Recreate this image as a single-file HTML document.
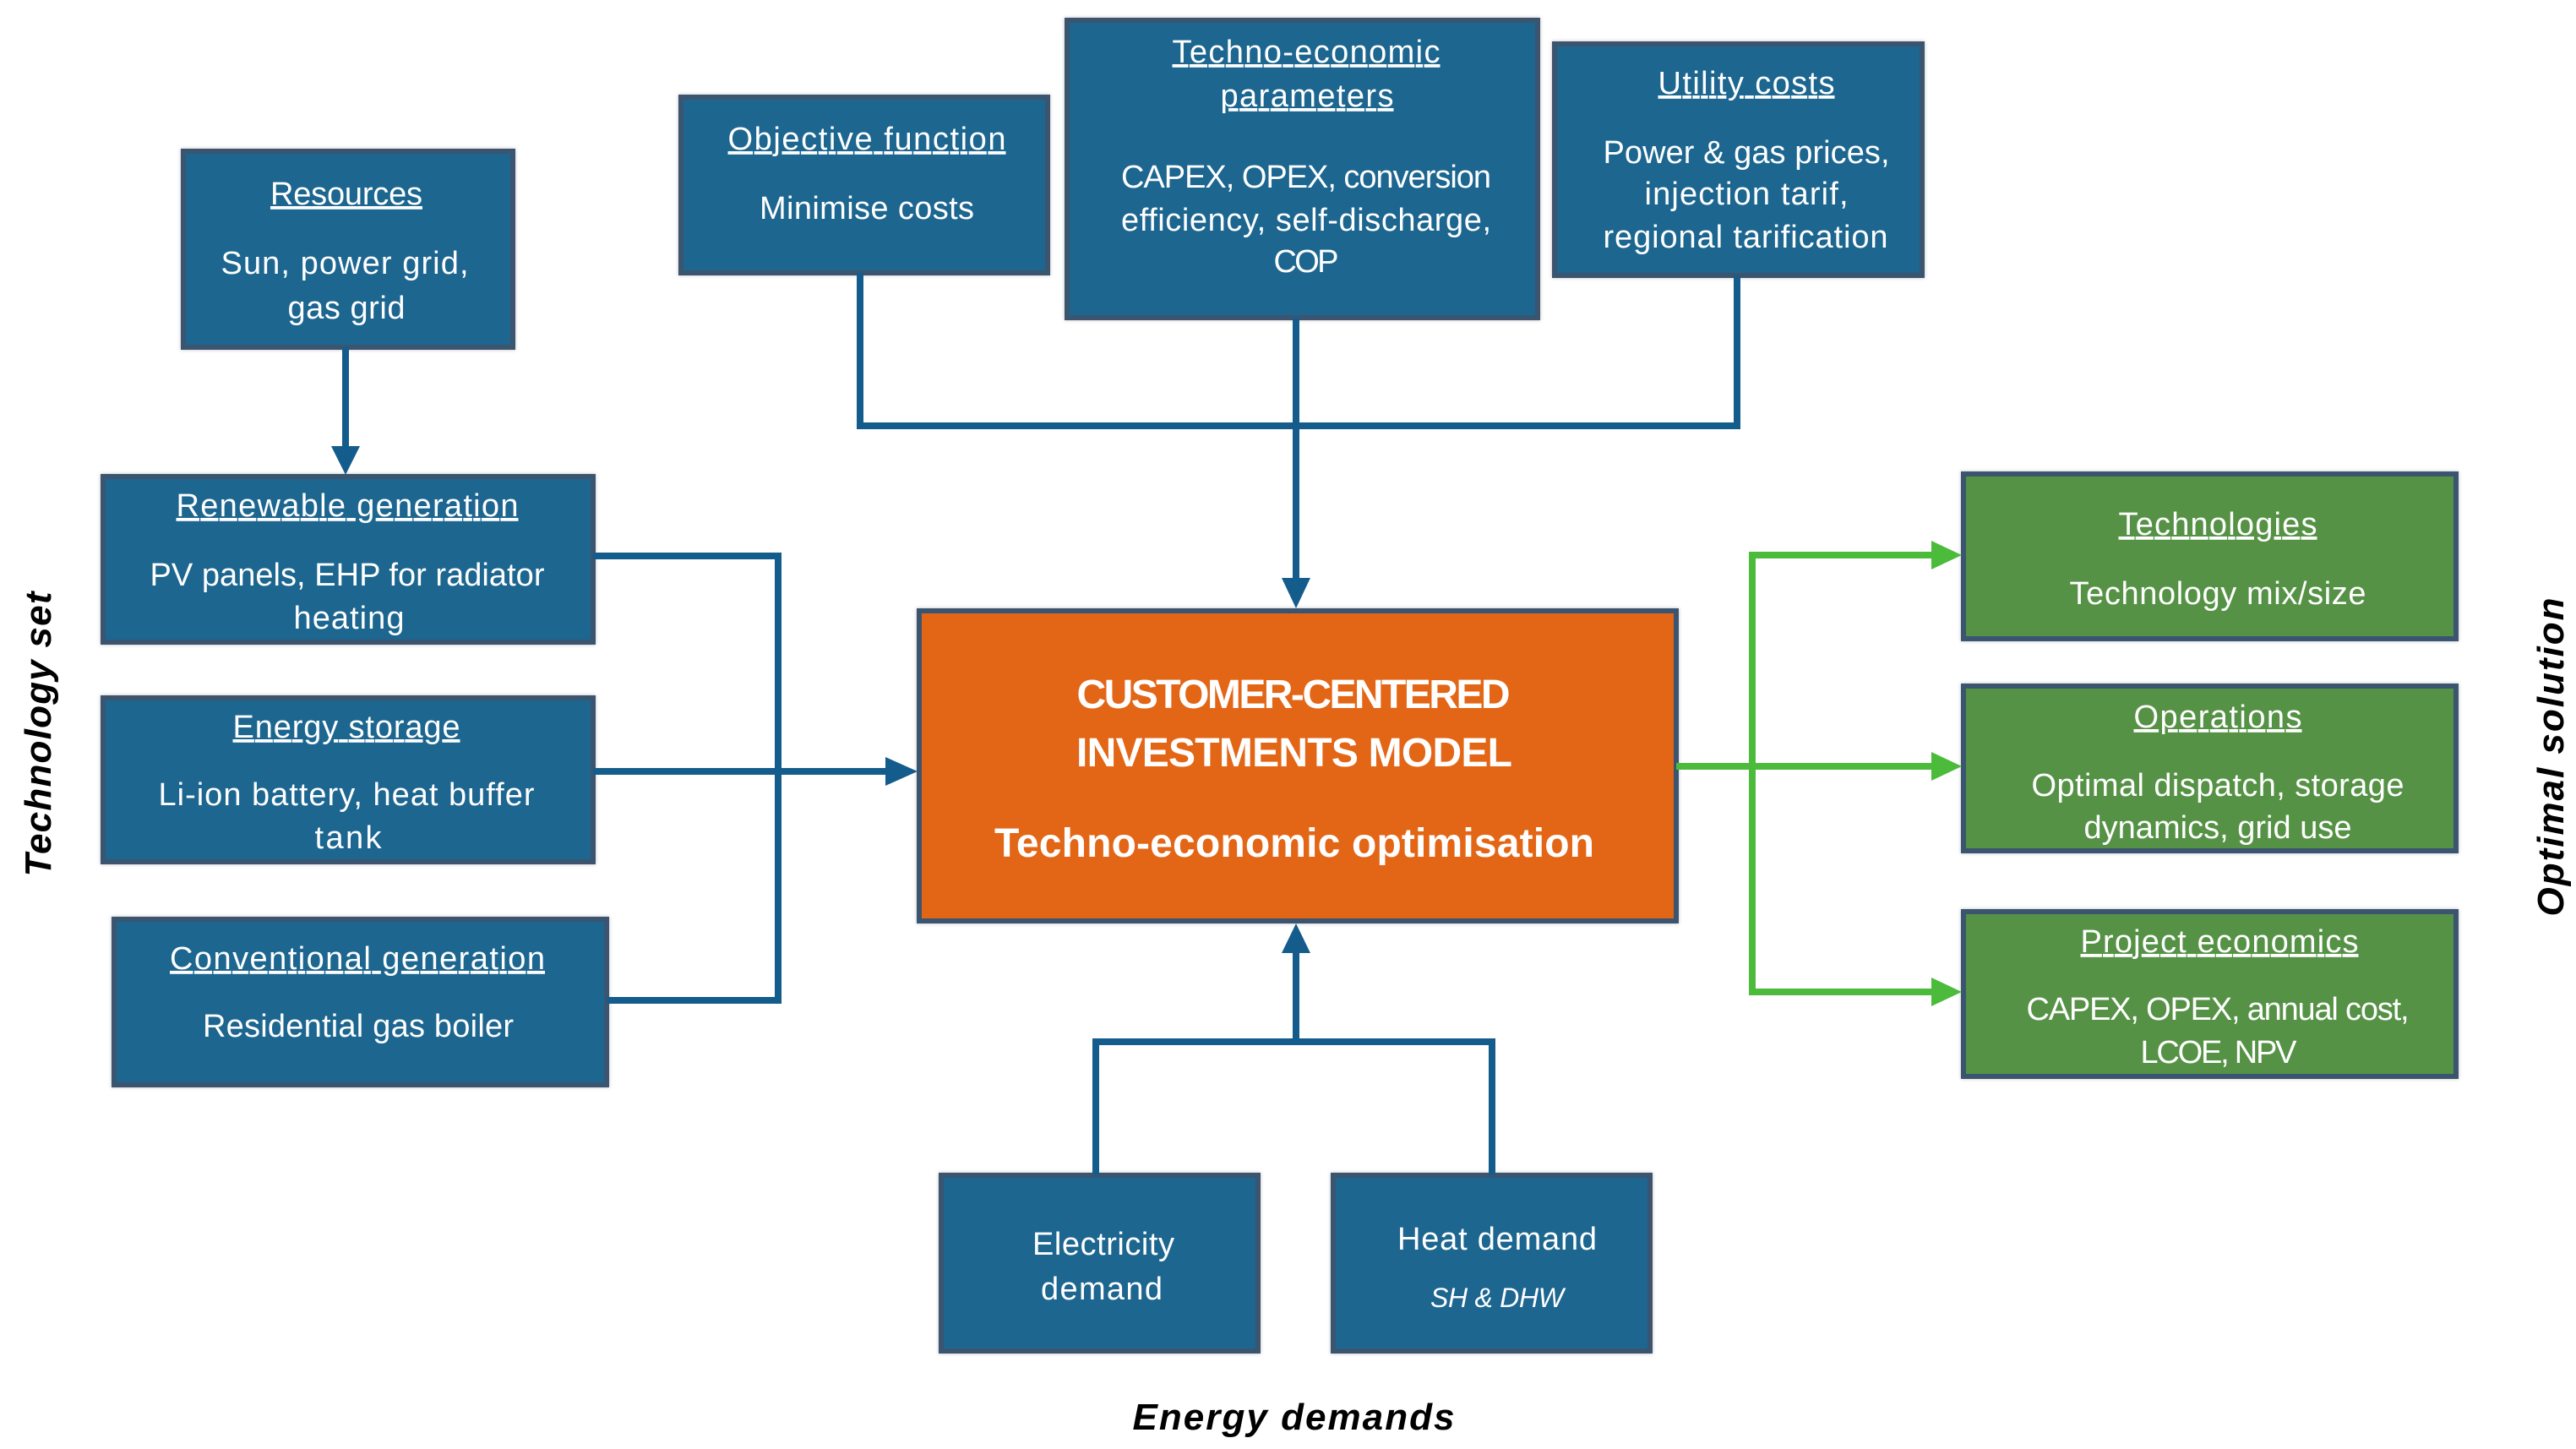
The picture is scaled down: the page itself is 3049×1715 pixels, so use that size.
<!DOCTYPE html>
<html><head><meta charset="utf-8"><style>
html,body{margin:0;padding:0;background:#fff;}
svg{display:block;}
text{font-family:"Liberation Sans",sans-serif;fill:#fff;}
</style></head><body>
<svg width="3049" height="1715" viewBox="0 0 3049 1715" xmlns="http://www.w3.org/2000/svg">
<defs>
<filter id="sh" x="-5%" y="-5%" width="110%" height="110%"><feDropShadow dx="0" dy="0" stdDeviation="2" flood-color="#000" flood-opacity="0.25"/></filter>
</defs>
<rect width="3049" height="1715" fill="#fff"/>
<g stroke="#3a5470" stroke-width="6" filter="url(#sh)">
<rect x="217" y="179" width="390" height="232" fill="#1c6690"/>
<rect x="806" y="115" width="434" height="208" fill="#1c6690"/>
<rect x="1263" y="24" width="557" height="352" fill="#1c6690"/>
<rect x="1840" y="52" width="435" height="274" fill="#1c6690"/>
<rect x="122" y="564" width="580" height="196" fill="#1c6690"/>
<rect x="122" y="826" width="580" height="194" fill="#1c6690"/>
<rect x="135" y="1088" width="583" height="196" fill="#1c6690"/>
<rect x="1114" y="1391" width="375" height="208" fill="#1c6690"/>
<rect x="1578" y="1391" width="375" height="208" fill="#1c6690"/>
<rect x="1088" y="723" width="896" height="367" fill="#e36617"/>
<rect x="2324" y="561" width="583" height="195" fill="#559245"/>
<rect x="2324" y="812" width="583" height="195" fill="#559245"/>
<rect x="2324" y="1079" width="583" height="195" fill="#559245"/>
</g>
<!-- connectors -->
<g fill="none" stroke="#145c8c" stroke-width="8">
<path d="M409 411 V530"/>
<path d="M1018 323 V504 H2056 V326"/>
<path d="M1534 376 V686"/>
<path d="M702 658 H921 V1184 H718"/>
<path d="M702 913 H1050"/>
<path d="M1297 1391 V1233 H1766 V1391"/>
<path d="M1534 1233 V1128"/>
</g>
<g fill="#145c8c">
<polygon points="392,528 426,528 409,562"/>
<polygon points="1517,684 1551,684 1534,720"/>
<polygon points="1048,896 1048,930 1086,913"/>
<polygon points="1517,1128 1551,1128 1534,1093"/>
</g>
<g fill="none" stroke="#4cbb3c" stroke-width="8">
<path d="M1984 907 H2288"/>
<path d="M2288 657 H2074 V1174 H2288"/>
</g>
<g fill="#4cbb3c">
<polygon points="2286,640 2286,674 2322,657"/>
<polygon points="2286,890 2286,924 2322,907"/>
<polygon points="2286,1157 2286,1191 2322,1174"/>
</g>
<g font-size="38" text-anchor="middle" lengthAdjust="spacingAndGlyphs">
<text x="410" y="242" textLength="180" text-decoration="underline">Resources</text>
<text x="408" y="324" textLength="293">Sun, power grid,</text>
<text x="410" y="377" textLength="139">gas grid</text>
<text x="1026" y="177" textLength="329" text-decoration="underline">Objective function</text>
<text x="1026" y="259" textLength="254">Minimise costs</text>
<text x="1546" y="74" textLength="317" text-decoration="underline">Techno-economic</text>
<text x="1547" y="126" textLength="205" text-decoration="underline">parameters</text>
<text x="1546" y="222" textLength="438">CAPEX, OPEX, conversion</text>
<text x="1546" y="273" textLength="438">efficiency, self-discharge,</text>
<text x="1546" y="322" textLength="77">COP</text>
<text x="2067" y="111" textLength="209" text-decoration="underline">Utility costs</text>
<text x="2067" y="193" textLength="339">Power &amp; gas prices,</text>
<text x="2067" y="242" textLength="241">injection tarif,</text>
<text x="2066" y="293" textLength="337">regional tarification</text>
<text x="411" y="611" textLength="405" text-decoration="underline">Renewable generation</text>
<text x="411" y="693" textLength="467">PV panels, EHP for radiator</text>
<text x="413" y="744" textLength="131">heating</text>
<text x="410" y="873" textLength="269" text-decoration="underline">Energy storage</text>
<text x="410" y="953" textLength="445">Li-ion battery, heat buffer</text>
<text x="412" y="1004" textLength="79">tank</text>
<text x="423" y="1147" textLength="444" text-decoration="underline">Conventional generation</text>
<text x="424" y="1227" textLength="368">Residential gas boiler</text>
<text x="1306" y="1485" textLength="168">Electricity</text>
<text x="1304" y="1538" textLength="144">demand</text>
<text x="1772" y="1479" textLength="236">Heat demand</text>
<text x="1772" y="1547" font-size="32" font-style="italic" textLength="158">SH &amp; DHW</text>
<text x="2625" y="633" textLength="235" text-decoration="underline">Technologies</text>
<text x="2625" y="715" textLength="351">Technology mix/size</text>
<text x="2625" y="861" textLength="199" text-decoration="underline">Operations</text>
<text x="2625" y="942" textLength="441">Optimal dispatch, storage</text>
<text x="2625" y="992" textLength="317">dynamics, grid use</text>
<text x="2627" y="1127" textLength="329" text-decoration="underline">Project economics</text>
<text x="2625" y="1207" textLength="453">CAPEX, OPEX, annual cost,</text>
<text x="2626" y="1258" textLength="185">LCOE, NPV</text>
</g>
<g font-size="48" font-weight="bold" text-anchor="middle" lengthAdjust="spacingAndGlyphs">
<text x="1531" y="838" textLength="513">CUSTOMER-CENTERED</text>
<text x="1532" y="907" textLength="516">INVESTMENTS MODEL</text>
<text x="1532" y="1014" textLength="710">Techno-economic optimisation</text>
</g>
<g font-size="44" font-weight="bold" font-style="italic" text-anchor="middle" lengthAdjust="spacingAndGlyphs" style="fill:#000">
<text x="1531" y="1692" textLength="381" style="fill:#000">Energy demands</text>
<text transform="translate(60,869) rotate(-90)" textLength="337" style="fill:#000">Technology set</text>
<text transform="translate(3034,896) rotate(-90)" textLength="377" style="fill:#000">Optimal solution</text>
</g>
</svg>
</body></html>
